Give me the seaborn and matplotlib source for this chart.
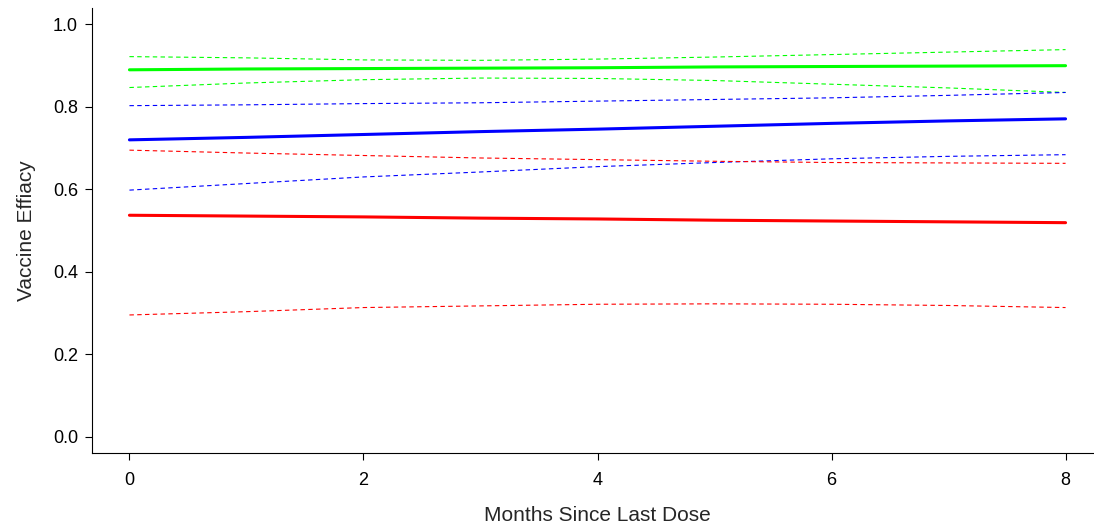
import matplotlib
matplotlib.use("Agg")
import matplotlib.pyplot as plt
import seaborn as sns
import pandas as pd

months = [0, 1, 2, 3, 4, 5, 6, 7, 8]

green_mid = [0.890, 0.892, 0.893, 0.894, 0.895, 0.897, 0.898, 0.899, 0.900]
green_hi = [0.922, 0.919, 0.914, 0.913, 0.916, 0.921, 0.927, 0.933, 0.939]
green_lo = [0.847, 0.858, 0.866, 0.870, 0.869, 0.864, 0.855, 0.846, 0.835]

blue_mid = [0.720, 0.726, 0.733, 0.740, 0.746, 0.753, 0.760, 0.766, 0.771]
blue_hi = [0.803, 0.805, 0.808, 0.810, 0.814, 0.818, 0.822, 0.828, 0.835]
blue_lo = [0.598, 0.614, 0.630, 0.642, 0.655, 0.665, 0.674, 0.680, 0.684]

red_mid = [0.537, 0.535, 0.533, 0.530, 0.528, 0.525, 0.523, 0.521, 0.519]
red_hi = [0.695, 0.688, 0.682, 0.676, 0.672, 0.668, 0.665, 0.664, 0.663]
red_lo = [0.295, 0.303, 0.313, 0.317, 0.321, 0.322, 0.321, 0.318, 0.313]

x_ticks = [0, 2, 4, 6, 8]
y_ticks = [0.0, 0.2, 0.4, 0.6, 0.8, 1.0]

sns.set_style("ticks")
plt.rcParams["font.family"] = ["Liberation Sans", "DejaVu Sans"]

fig = plt.figure(figsize=(10.94, 5.23), dpi=100)
ax = fig.add_axes([92 / 1094, 70 / 523, (1103 - 92) / 1094, 445 / 523])

dotted = (0, (4, 3))
series = [
    (green_hi, "#00ff00", 0.8, dotted),
    (green_lo, "#00ff00", 0.8, dotted),
    (blue_hi, "#0000ff", 0.8, dotted),
    (blue_lo, "#0000ff", 0.8, dotted),
    (red_hi, "#ff0000", 0.8, dotted),
    (red_lo, "#ff0000", 0.8, dotted),
    (green_mid, "#00ff00", 2.2, "-"),
    (blue_mid, "#0000ff", 2.2, "-"),
    (red_mid, "#ff0000", 2.2, "-"),
]
for vals, col, lw, ls in series:
    df = pd.DataFrame({"month": months, "ve": vals})
    sns.lineplot(data=df, x="month", y="ve", ax=ax, color=col,
                 linewidth=lw, linestyle=ls)

ax.set_xlim(-0.32, 8.32)
ax.set_ylim(-0.04, 1.04)
ax.set_xticks(x_ticks)
ax.set_xticklabels([str(t) for t in x_ticks])
ax.set_yticks(y_ticks)
ax.set_yticklabels([f"{t:.1f}" for t in y_ticks])

for s in ["top", "right"]:
    ax.spines[s].set_visible(False)
for s in ["left", "bottom"]:
    ax.spines[s].set_linewidth(0.8)
    ax.spines[s].set_color("black")

ax.tick_params(axis="both", length=5, width=0.8, color="black",
               labelsize=13, labelcolor="black")
ax.tick_params(axis="x", pad=9)
ax.tick_params(axis="y", pad=5)

ax.set_xlabel("Months Since Last Dose", fontsize=15, labelpad=12)
ax.set_ylabel("Vaccine Effiacy", fontsize=15, labelpad=12)

fig.savefig("out.png", dpi=100)
